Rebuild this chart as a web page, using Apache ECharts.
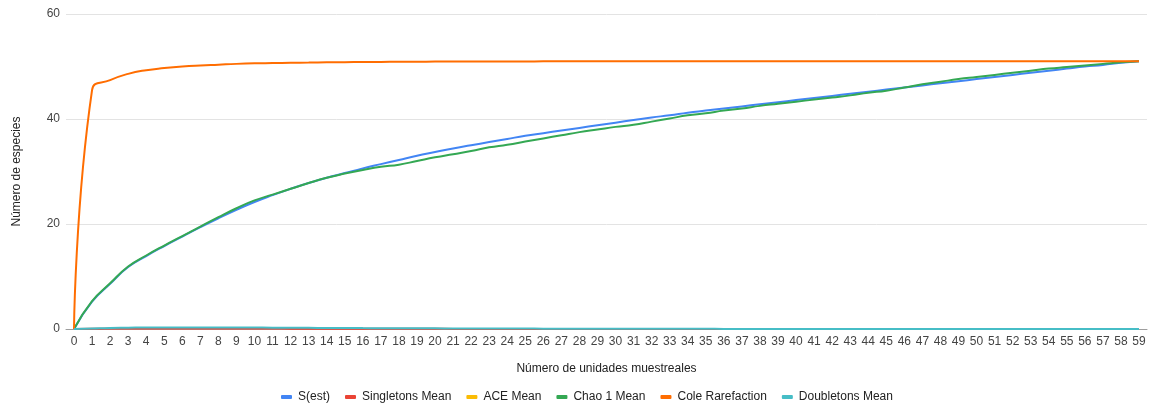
<!DOCTYPE html>
<html>
<head>
<meta charset="utf-8">
<script src="https://cdn.jsdelivr.net/npm/echarts@6/dist/echarts.min.js"></script>
<style>html,body{margin:0;padding:0;background:#fff;}#c{width:1149px;height:404px;}</style>
</head>
<body>
<div id="c"></div>
<script>
const categories = Array.from({length: 60}, (_, i) => i);
const yTicks = [0, 20, 40, 60];
const seriesNames = ['S(est)', 'Singletons Mean', 'ACE Mean', 'Chao 1 Mean', 'Cole Rarefaction', 'Doubletons Mean'];

const sEst = [0, 5.2, 8.6, 11.8, 13.9, 15.8, 17.6, 19.4, 21.1, 22.7, 24.2, 25.5, 26.7, 27.8, 28.8, 29.7, 30.6, 31.4, 32.2, 33.0,
  33.7, 34.4, 35.0, 35.6, 36.2, 36.8, 37.3, 37.8, 38.3, 38.8, 39.3, 39.8, 40.3, 40.7, 41.2, 41.6, 42.0, 42.4, 42.8, 43.2,
  43.6, 44.0, 44.4, 44.8, 45.2, 45.6, 46.0, 46.4, 46.8, 47.2, 47.6, 48.0, 48.4, 48.8, 49.2, 49.6, 50.0, 50.3, 50.7, 51.0];
const singletons = [0, 0.05, 0.08, 0.1, 0.1, 0.1, 0.1, 0.1, 0.1, 0.1, 0.08, 0.08, 0.07, 0.06, 0.05, 0.05, 0.04, 0.04, 0.03, 0.03,
  0.03, 0.02, 0.02, 0.02, 0.02, 0.02, 0.01, 0.01, 0.01, 0.01, 0.01, 0.01, 0.01, 0.01, 0.01, 0, 0, 0, 0, 0,
  0, 0, 0, 0, 0, 0, 0, 0, 0, 0, 0, 0, 0, 0, 0, 0, 0, 0, 0, 0];
const ace = [];
const chao1 = [0, 5.3, 8.7, 11.9, 14.0, 15.9, 17.7, 19.5, 21.3, 23.0, 24.5, 25.6, 26.7, 27.8, 28.8, 29.6, 30.3, 30.9, 31.3, 32.0,
  32.7, 33.3, 33.9, 34.6, 35.1, 35.7, 36.3, 36.9, 37.5, 38.0, 38.5, 38.9, 39.5, 40.1, 40.7, 41.1, 41.6, 42.0, 42.5, 42.9,
  43.3, 43.7, 44.1, 44.5, 45.0, 45.4, 46.0, 46.6, 47.1, 47.6, 48.0, 48.4, 48.8, 49.2, 49.6, 49.9, 50.2, 50.5, 50.8, 51.0];
const cole = [0, 45.5, 47.4, 48.6, 49.3, 49.7, 50.0, 50.2, 50.35, 50.5, 50.6, 50.65, 50.7, 50.75, 50.8, 50.82, 50.85, 50.87, 50.9, 50.92,
  50.93, 50.94, 50.95, 50.96, 50.97, 50.97, 50.98, 50.98, 50.98, 50.99, 50.99, 50.99, 50.99, 50.99, 51, 51, 51, 51, 51, 51,
  51, 51, 51, 51, 51, 51, 51, 51, 51, 51, 51, 51, 51, 51, 51, 51, 51, 51, 51, 51];
const doubletons = [0, 0.1, 0.2, 0.25, 0.3, 0.3, 0.3, 0.3, 0.3, 0.3, 0.28, 0.25, 0.25, 0.22, 0.2, 0.2, 0.18, 0.15, 0.15, 0.12,
  0.12, 0.1, 0.1, 0.1, 0.08, 0.08, 0.07, 0.06, 0.06, 0.05, 0.05, 0.04, 0.04, 0.03, 0.03, 0.03, 0.02, 0.02, 0.02, 0.02,
  0.01, 0.01, 0.01, 0.01, 0.01, 0.01, 0, 0, 0, 0, 0, 0, 0, 0, 0, 0, 0, 0, 0, 0];

const colors = ['#4285F4', '#EA4335', '#FBBC04', '#34A853', '#FF6D01', '#46BDC6'];
const valuesList = [sEst, singletons, ace, chao1, cole, doubletons];

const chart = echarts.init(document.getElementById('c'), null, {renderer: 'canvas'});
const FONT = 'Arial, "Liberation Sans", sans-serif';

chart.setOption({
  animation: false,
  color: colors,
  textStyle: {fontFamily: FONT},
  grid: {left: 66, right: 2, top: 14, bottom: 75, containLabel: false, outerBoundsMode: 'none'},
  legend: {
    left: 276, top: 386,
    itemWidth: 11, itemHeight: 4, itemGap: 15,
    icon: 'roundRect',
    textStyle: {fontSize: 12, color: '#222', fontFamily: FONT, padding: [0, 0, 0, 1]},
    data: seriesNames
  },
  xAxis: {
    type: 'value',
    min: -0.443, max: 59.443,
    name: 'Número de unidades muestreales',
    nameLocation: 'middle', nameGap: 34,
    nameTextStyle: {fontSize: 12, color: '#222'},
    axisLine: {show: true, onZero: true, lineStyle: {color: '#9e9e9e', width: 1}},
    axisTick: {show: false},
    splitLine: {show: false},
    axisLabel: {customValues: categories, fontSize: 12, color: '#444', margin: 7,
      formatter: v => String(Math.round(v))}
  },
  yAxis: {
    type: 'value', min: 0, max: 60, interval: 20,
    name: 'Número de especies',
    nameLocation: 'middle', nameGap: 43,
    nameTextStyle: {fontSize: 12, color: '#222'},
    axisLine: {show: false}, axisTick: {show: false},
    splitLine: {lineStyle: {color: '#e3e3e3', width: 1}},
    axisLabel: {fontSize: 12, color: '#444', margin: 6,
      formatter: v => yTicks.includes(v) ? String(v) : ''}
  },
  series: seriesNames.map((n, k) => ({
    name: n, type: 'line', smooth: 0.5, showSymbol: false, symbol: 'none',
    lineStyle: {width: 2, color: colors[k]},
    itemStyle: {color: colors[k]},
    data: valuesList[k].map((v, i) => [categories[i], v])
  }))
});
</script>
</body>
</html>
